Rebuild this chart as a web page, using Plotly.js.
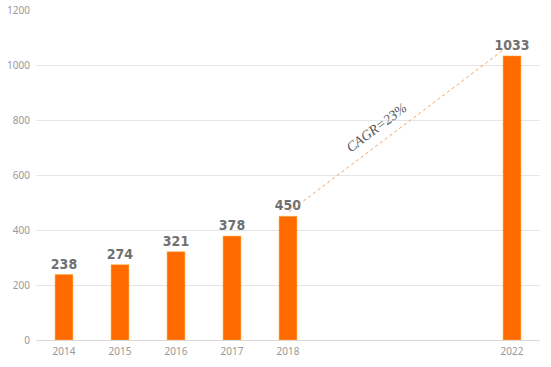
<!DOCTYPE html>
<html><head><meta charset="utf-8">
<script src="https://cdn.plot.ly/plotly-3.0.1.min.js"></script>
<style>html,body{margin:0;padding:0;background:#fff}#c{width:551px;height:367px}</style>
</head><body><div id="c"></div>
<script>
var years = [2014, 2015, 2016, 2017, 2018, 2022];
var values = [238, 274, 321, 378, 450, 1033];
var tickLabels = ['2014', '2015', '2016', '2017', '2018', '2022'];
var cagrText = 'CAGR=23%';

var trace = {
  type: 'bar', x: years, y: values, width: 0.32,
  marker: {color: '#FF6A00', line: {color: '#FFB347', width: 0.6}},
  text: values.map(String), textposition: 'outside', cliponaxis: false, constraintext: 'none',
  textfont: {family: 'DejaVu Sans Condensed', size: 14, color: '#707070', weight: 'bold'},
  hoverinfo: 'none'
};
var layout = {
  width: 551, height: 367,
  margin: {l: 36, r: 11, t: 10, b: 27},
  paper_bgcolor: '#fff', plot_bgcolor: '#fff',
  showlegend: false,
  xaxis: {range: [2013.5, 2022.5], tickvals: years, ticktext: tickLabels,
    showgrid: false, zeroline: false, showline: false, ticks: '', ticklabelstandoff: 4,
    tickfont: {family: 'Noto Sans', size: 10, color: '#999'}},
  yaxis: {range: [0, 1200], dtick: 200, showgrid: true, gridcolor: '#e6e6e6', gridwidth: 1,
    zeroline: true, zerolinecolor: '#d9d9d9', showline: false, ticks: '', ticklabelstandoff: 5,
    tickfont: {family: 'Noto Sans', size: 10, color: '#999'}},
  shapes: [{type: 'line', xref: 'x', yref: 'y', x0: 2018.02, y0: 466, x1: 2021.88, y1: 1060,
    line: {color: '#F5A05A', width: 1, dash: 'dot'}}],
  annotations: [{xref: 'paper', yref: 'paper', x: (377-36)/504, y: (340-128)/330,
    xanchor: 'center', yanchor: 'middle',
    text: cagrText, showarrow: false, textangle: -37,
    font: {family: 'Liberation Serif', size: 14, color: '#555', style: 'italic'}}]
};
Plotly.newPlot('c', [trace], layout, {staticPlot: true, displayModeBar: false});
</script></body></html>
